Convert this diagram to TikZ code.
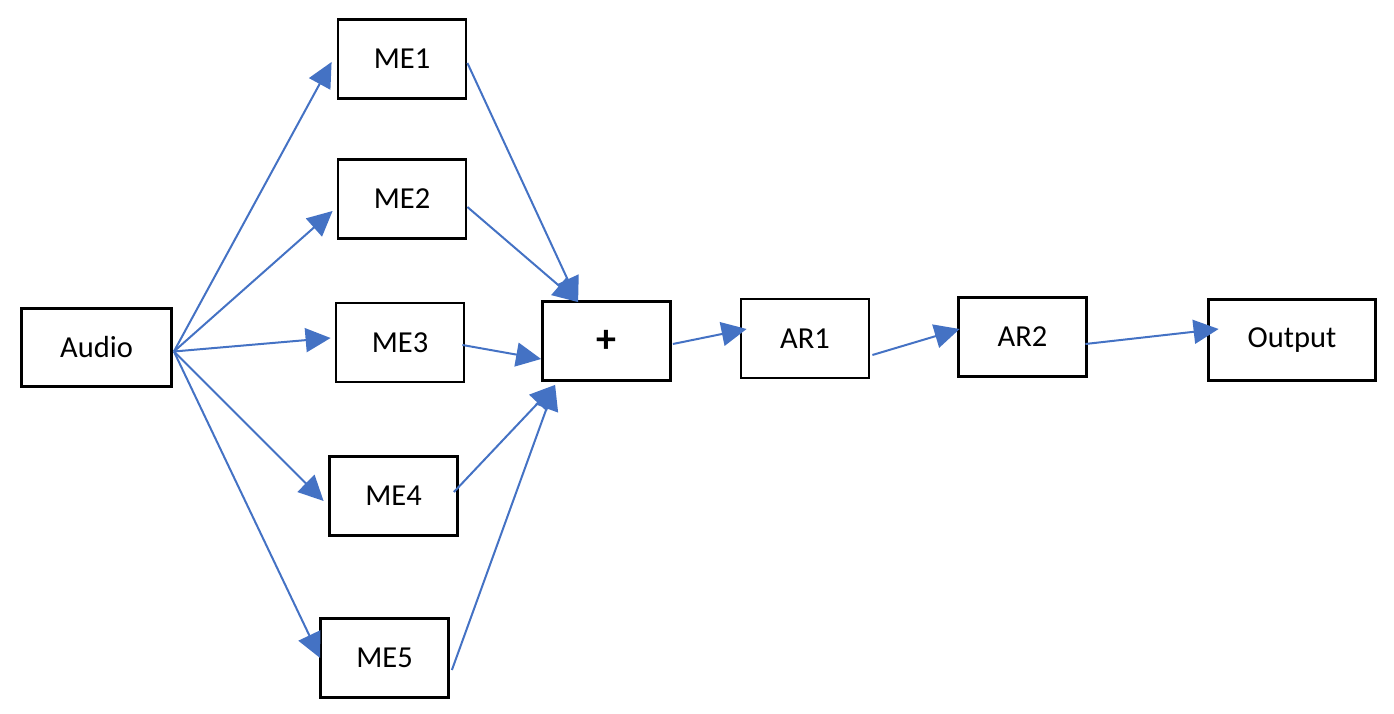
\documentclass[tikz,border=0pt]{standalone}
\usepackage{fontspec}
\setmainfont{Carlito}
\usetikzlibrary{arrows.meta,calc}
\definecolor{linkblue}{HTML}{4472C4}
\begin{document}
\begin{tikzpicture}[x=1pt,y=1pt,
        box/.style={draw,line width=2.8pt,minimum width=128pt,minimum height=79pt,inner sep=0pt,font=\fontsize{30.5}{36}\selectfont},
        link/.style={linkblue,line width=2pt,-{Triangle[length=25pt,width=24pt]}}]
            \useasboundingbox (0,0) rectangle (1394,714);
            \node[box,minimum width=150pt,minimum height=78pt] (audio) at (96.5,366.5) {Audio};
            \foreach \n/\x/\y in {1/402/655,2/402/515,3/400/371.5,4/393.5/218,5/384.5/56} {
                \node[box] (me\n) at (\x,\y) {ME\n};
            }
            \node[box,font=\fontsize{40}{44}\selectfont\bfseries] (plus) at (606.5,373) {+};
            \node[box] (ar1) at (805,375.5) {AR1};
            \node[box] (ar2) at (1022.5,377) {AR2};
            \node[box,minimum width=167pt,minimum height=81pt] (out) at (1292,374) {Output};
            % fan out from the audio box
            \coordinate (fan) at ($(audio.east)+(1,-4)$);
            \draw[link] (fan) -- ($(me1.west)+(-5,-3)$);
            \draw[link] (fan) -- ($(me2.west)+(-4,-12)$);
            \draw[link] (fan) -- ($(me3.west)+(-4,4.5)$);
            \draw[link] (fan) -- ($(me4.west)+(-4.5,-5)$);
            \draw[link] (fan) -- ($(me5.west)+(1,0)$);
            % into the sum
            \coordinate (ptop) at ($(plus.north west)+(37,-2)$);
            \coordinate (pbot) at ($(plus.south west)+(14,-3)$);
            \draw[link] ($(me1.east)+(0,-4)$) -- (ptop);
            \draw[link] ($(me2.east)+(0,-8)$) -- (ptop);
            \draw[link] ($(me3.east)+(-3,-2.5)$) -- ($(plus.west)+(0,-18)$);
            \draw[link] ($(me4.east)+(-5,4)$) -- (pbot);
            \draw[link] ($(me5.east)+(2,-12)$) -- (pbot);
            % chain to the output
            \draw[link] ($(plus.east)+(1,-3)$) -- ($(ar1.west)+(7,9.5)$);
            \draw[link] ($(ar1.east)+(2,-16.5)$) -- ($(ar2.west)+(2.5,8)$);
            \draw[link] ($(ar2.east)+(-2.5,-7)$) -- ($(out.west)+(11.5,11)$);
        \end{tikzpicture}
\end{document}
